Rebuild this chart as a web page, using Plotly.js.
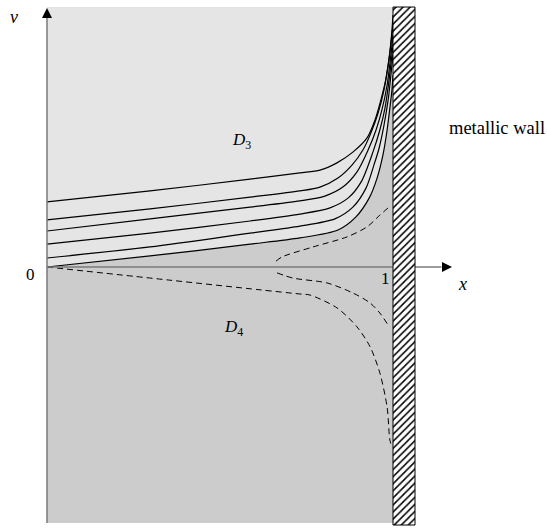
<!DOCTYPE html>
<html>
<head>
<meta charset="utf-8">
<script src="https://cdn.plot.ly/plotly-3.0.1.min.js"></script>
<style>html,body{margin:0;padding:0;background:#fff;}#chart{width:547px;height:529px;}</style>
</head>
<body>
<div id="chart"></div>
<script>
// ---- data (x in units of the gap width, v in the same units) ----
const line5X = [0, 0.298, 0.587, 0.731, 0.789, 0.838, 0.884, 0.925, 0.948, 0.965, 0.980, 0.991, 0.997, 1.0];
const line5V = [0.188, 0.220, 0.254, 0.272, 0.280, 0.301, 0.332, 0.373, 0.425, 0.483, 0.546, 0.621, 0.685, 0.728];
const line4X = [0, 0.298, 0.587, 0.731, 0.789, 0.841, 0.882, 0.913, 0.936, 0.957, 0.974, 0.988, 0.997, 1.0];
const line4V = [0.136, 0.168, 0.202, 0.220, 0.231, 0.257, 0.295, 0.338, 0.387, 0.445, 0.512, 0.598, 0.671, 0.699];
const line3X = [0, 0.298, 0.587, 0.731, 0.803, 0.855, 0.896, 0.928, 0.951, 0.968, 0.983, 0.994, 1.0];
const line3V = [0.104, 0.139, 0.173, 0.191, 0.205, 0.231, 0.275, 0.338, 0.396, 0.454, 0.526, 0.613, 0.671];
const line2X = [0, 0.298, 0.587, 0.731, 0.818, 0.870, 0.908, 0.942, 0.962, 0.977, 0.988, 0.997, 1.0];
const line2V = [0.066, 0.098, 0.133, 0.153, 0.171, 0.199, 0.246, 0.332, 0.396, 0.460, 0.535, 0.613, 0.642];
const line1X = [0, 0.298, 0.587, 0.731, 0.832, 0.884, 0.922, 0.945, 0.960, 0.974, 0.986, 0.994, 1.0];
const line1V = [0.026, 0.058, 0.098, 0.118, 0.139, 0.173, 0.228, 0.295, 0.344, 0.410, 0.483, 0.555, 0.613];
const line0X = [0, 0.298, 0.587, 0.731, 0.841, 0.893, 0.931, 0.954, 0.971, 0.983, 0.991, 0.997, 1.0];
const line0V = [0, 0.032, 0.066, 0.084, 0.107, 0.145, 0.199, 0.257, 0.324, 0.396, 0.460, 0.512, 0.555];

const dashAX = [0.662, 0.679, 0.769, 0.867, 0.925, 0.962, 0.986];
const dashAV = [0.017, 0.029, 0.058, 0.087, 0.116, 0.150, 0.171];
const dashBX = [0, 0.355, 0.616, 0.731, 0.760, 0.838, 0.896, 0.934, 0.962, 0.983, 0.991, 0.997];
const dashBV = [0, -0.038, -0.066, -0.078, -0.081, -0.118, -0.173, -0.231, -0.306, -0.405, -0.500, -0.520];
const dashCX = [0.665, 0.711, 0.809, 0.884, 0.934, 0.962, 0.986];
const dashCV = [-0.017, -0.032, -0.046, -0.075, -0.104, -0.133, -0.168];

const domainTop = 0.751, domainBottom = -0.740;
const wallLeft = 1.0, wallRight = 1.0636, wallTop = 0.7514, wallBottom = -0.7457;

const labels = {v: 'v', x: 'x', zero: '0', one: '1', d3: 'D', d4: 'D', wall: 'metallic wall'};

// ---- traces ----
const serif = 'Liberation Serif, DejaVu Serif, serif';
const traces = [];
// dark gray domain
traces.push({x: [0, 1, 1, 0, 0], y: [domainTop, domainTop, domainBottom, domainBottom, domainTop],
  mode: 'lines', line: {width: 0}, fill: 'toself', fillcolor: '#cccccc', hoverinfo: 'skip', showlegend: false});
// light region D3 : top edge then boundary curve
traces.push({x: [0, 1], y: [domainTop, domainTop], mode: 'lines', line: {width: 0}, hoverinfo: 'skip', showlegend: false});
traces.push({x: line0X.concat([1]), y: line0V.concat([domainTop]), mode: 'lines',
  line: {width: 0, shape: 'spline', smoothing: 0.8}, fill: 'tonexty', fillcolor: '#e5e5e5', hoverinfo: 'skip', showlegend: false});

const solids = [[line0X, line0V], [line1X, line1V], [line2X, line2V], [line3X, line3V], [line4X, line4V], [line5X, line5V]];
solids.forEach(([xs, vs]) => traces.push({x: xs, y: vs, mode: 'lines',
  line: {color: '#000', width: 1.2, shape: 'spline', smoothing: 0.8}, hoverinfo: 'skip', showlegend: false}));

const dashes = [[dashAX, dashAV], [dashBX, dashBV], [dashCX, dashCV]];
dashes.forEach(([xs, vs]) => traces.push({x: xs, y: vs, mode: 'lines',
  line: {color: '#000', width: 1, dash: '6px,4px', shape: 'spline', smoothing: 0.8}, hoverinfo: 'skip', showlegend: false}));

// axes lines
traces.push({x: [0, 0], y: [domainBottom, 0.72], mode: 'lines', line: {color: '#7a7a7a', width: 1.5}, hoverinfo: 'skip', showlegend: false});
traces.push({x: [0, 1.14], y: [0, 0], mode: 'lines', line: {color: '#7a7a7a', width: 1.5}, hoverinfo: 'skip', showlegend: false});
// arrow heads (tip anchored symbols)
traces.push({x: [0], y: [0.7486], mode: 'markers', marker: {symbol: 'arrow-up', size: 10, color: '#000', line: {width: 0}},
  hoverinfo: 'skip', showlegend: false, cliponaxis: false});
traces.push({x: [1.1705], y: [0], mode: 'markers', marker: {symbol: 'arrow-right', size: 10, color: '#000', line: {width: 0}},
  hoverinfo: 'skip', showlegend: false, cliponaxis: false});

// wall
traces.push({x: [wallLeft, wallRight, wallRight, wallLeft, wallLeft], y: [wallTop, wallTop, wallBottom, wallBottom, wallTop],
  mode: 'lines', line: {color: '#000', width: 1}, fill: 'toself', fillcolor: '#fff',
  fillpattern: {shape: '/', fgcolor: '#000', bgcolor: '#fff', size: 5, solidity: 0.3},
  hoverinfo: 'skip', showlegend: false});

const ann = (x, y, text, size) => ({x, y, xref: 'x', yref: 'y', text, showarrow: false,
  font: {family: serif, size: size, color: '#000'}});

const annotations = [
  ann(-0.0954, 0.7225, '<i>' + labels.v + '</i>', 18),
  ann(1.202, -0.049, '<i>' + labels.x + '</i>', 18),
  ann(-0.049, -0.023, labels.zero, 17),
  ann(0.977, -0.032, labels.one, 17),
  ann(0.561, 0.364, '<i>' + labels.d3 + '</i><sub>3</sub>', 17),
  ann(0.540, -0.176, '<i>' + labels.d4 + '</i><sub>4</sub>', 17),
  ann(1.3006, 0.4017, labels.wall, 18.5)
];

const layout = {
  width: 547, height: 529,
  margin: {l: 0, r: 0, t: 0, b: 0, pad: 0},
  paper_bgcolor: '#fff', plot_bgcolor: '#fff',
  xaxis: {range: [-0.1358, 1.4451], visible: false, fixedrange: true},
  yaxis: {range: [-0.7572, 0.7717], visible: false, fixedrange: true},
  showlegend: false,
  annotations: annotations
};

Plotly.newPlot('chart', traces, layout, {staticPlot: true, displayModeBar: false});
</script>
</body>
</html>
